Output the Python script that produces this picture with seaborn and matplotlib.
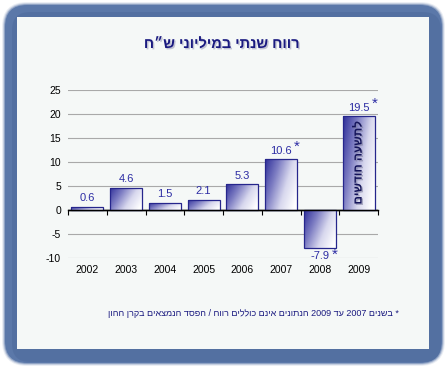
import re
import numpy as np
import pandas as pd
import matplotlib
matplotlib.use("Agg")
import matplotlib.pyplot as plt
import seaborn as sns
from matplotlib.patches import FancyBboxPatch, Rectangle
from matplotlib.colors import LinearSegmentedColormap
from matplotlib.transforms import IdentityTransform
import matplotlib.patheffects as pe

# ---------------- data ----------------
years = ["2002", "2003", "2004", "2005", "2006", "2007", "2008", "2009"]
values = [0.6, 4.6, 1.5, 2.1, 5.3, 10.6, -7.9, 19.5]
value_labels = ["0.6", "4.6", "1.5", "2.1", "5.3", "10.6", "-7.9", "19.5"]
starred = ["2007", "2008", "2009"]
y_ticks = [-10, -5, 0, 5, 10, 15, 20, 25]
title = "רווח שנתי במיליוני ש״ח"
bar_note = "לתשעה חודשים"
footnote = "* בשנים 2007 עד 2009 הנתונים אינם כוללים רווח / הפסד הנמצאים בקרן ההון"

plt.rcParams["font.family"] = ["Liberation Sans", "DejaVu Sans"]
plt.rcParams["axes.unicode_minus"] = False


def visual(s):
    """Simple RTL -> visual order (keeps digit runs LTR)."""
    r = s[::-1]
    return re.sub(r"[0-9.]+", lambda m: m.group(0)[::-1], r)


W, H = 447, 367
fig = plt.figure(figsize=(W / 100, H / 100), dpi=100)
fig.patch.set_facecolor("white")


def fx(px):
    return px / W


def fy(py):
    return 1 - py / H


# ---------------- frame ----------------
idt = IdentityTransform()
frame_col = "#5b78a9"
for grow, alpha in [(3, 0.12), (2, 0.25), (1, 0.5), (0, 1.0)]:
    x0, x1 = 5 - grow, 442 + grow
    top, bot = 5 - grow, 363 + grow
    fig.add_artist(FancyBboxPatch((x0, H - bot), x1 - x0, bot - top,
                                  boxstyle="round,pad=0,rounding_size=%d" % (22 + grow),
                                  transform=idt, facecolor=frame_col, edgecolor="none",
                                  alpha=alpha, zorder=-5))
fig.add_artist(FancyBboxPatch((12, H - 362), 429, 350,
                              boxstyle="round,pad=0,rounding_size=18",
                              transform=idt, facecolor="#3f5a8c", edgecolor="none",
                              alpha=0.25, zorder=-4.5))
fig.add_artist(Rectangle((17, H - 349), 412, 332, transform=idt,
                         facecolor="#f5f8f7", edgecolor="none", zorder=-4))

# ---------------- axes ----------------
ax = fig.add_axes([fx(68), fy(257.7), (378 - 68) / W, (257.7 - 90) / H])
ax.set_facecolor("none")

df = pd.DataFrame({"year": years, "value": values})
sns.barplot(data=df, x="year", y="value", ax=ax, color="#5050b0", saturation=1,
            width=0.83, edgecolor="#26268c", linewidth=0.9, errorbar=None)

cmap = LinearSegmentedColormap.from_list("g", ["#30309a", "#7c7cc2", "#d8d8ee", "#ffffff"])
nx, ny = 60, 60
u = np.linspace(0, 1, nx)[None, :]
v = np.linspace(0, 1, ny)[:, None]
grad = np.clip(0.75 * u + 0.35 * v, 0, 1)
for p in ax.patches:
    x0 = p.get_x()
    w = p.get_width()
    y0 = p.get_y()
    h = p.get_height()
    lo, hi = min(y0, y0 + h), max(y0, y0 + h)
    im = ax.imshow(grad, cmap=cmap, extent=(x0, x0 + w, lo, hi), origin="upper",
                   aspect="auto", zorder=2, interpolation="bilinear")
    im.set_clip_path(p)
    p.set_facecolor("none")
    p.set_zorder(3)

ax.set_xlim(-0.5, len(years) - 0.5)
ax.set_ylim(-10, 25)
ax.set_yticks(y_ticks)
ax.set_yticklabels([str(t) for t in y_ticks])
ax.yaxis.grid(True, color="#a9a9a9", lw=0.8)
ax.xaxis.grid(False)
ax.set_axisbelow(True)
for s in ax.spines.values():
    s.set_visible(False)
ax.tick_params(axis="y", length=0, pad=5, labelsize=7.5, labelcolor="black")
ax.tick_params(axis="x", length=0, pad=5, labelsize=7.5, labelcolor="black")
ax.set_xlabel("")
ax.set_ylabel("")

# zero axis line with boundary tick marks
ax.axhline(0, color="black", lw=1.0, zorder=4)
sec = ax.secondary_xaxis(10 / 35)
sec.set_xticks(np.arange(-0.5, len(years), 1.0))
sec.set_xticklabels([])
sec.tick_params(length=3.5, width=0.8, direction="out", color="black")
sec.spines["bottom"].set_color("black")
sec.spines["bottom"].set_linewidth(1.0)

# value labels
lab_col = "#2c2ca4"
cont = ax.containers[0]
ax.bar_label(cont, labels=value_labels, padding=2.5, color=lab_col, fontsize=8)
for i, (yr, v) in enumerate(zip(years, values)):
    if yr in starred:
        if v > 0:
            ax.annotate("*", xy=(i, v), xytext=(11.5, 9), textcoords="offset points",
                        ha="center", va="center", color=lab_col, fontsize=11)
        else:
            ax.annotate("*", xy=(i, v), xytext=(10.5, -5), textcoords="offset points",
                        ha="center", va="center", color=lab_col, fontsize=11)

# note inside 2009 bar
ax.text(years.index("2009"), values[-1] / 2, visual(bar_note), rotation=90,
        ha="center", va="center", fontsize=8.5, fontweight="bold", color="#14145a",
        zorder=5,
        path_effects=[pe.withSimplePatchShadow(offset=(1, -1), shadow_rgbFace="#8080a0", alpha=0.6)])

# title and footnote
fig.text(fx(222), fy(44), visual(title), ha="center", va="center", fontsize=10.5,
         fontweight="bold", color="#1a1a80",
         path_effects=[pe.withSimplePatchShadow(offset=(1, -1), shadow_rgbFace="#9090b0", alpha=0.5)])
fig.text(fx(399), fy(313), visual(footnote), ha="right", va="center", fontsize=6.5,
         color="#1a1a80")

fig.savefig("out.png", dpi=100, facecolor="white")
